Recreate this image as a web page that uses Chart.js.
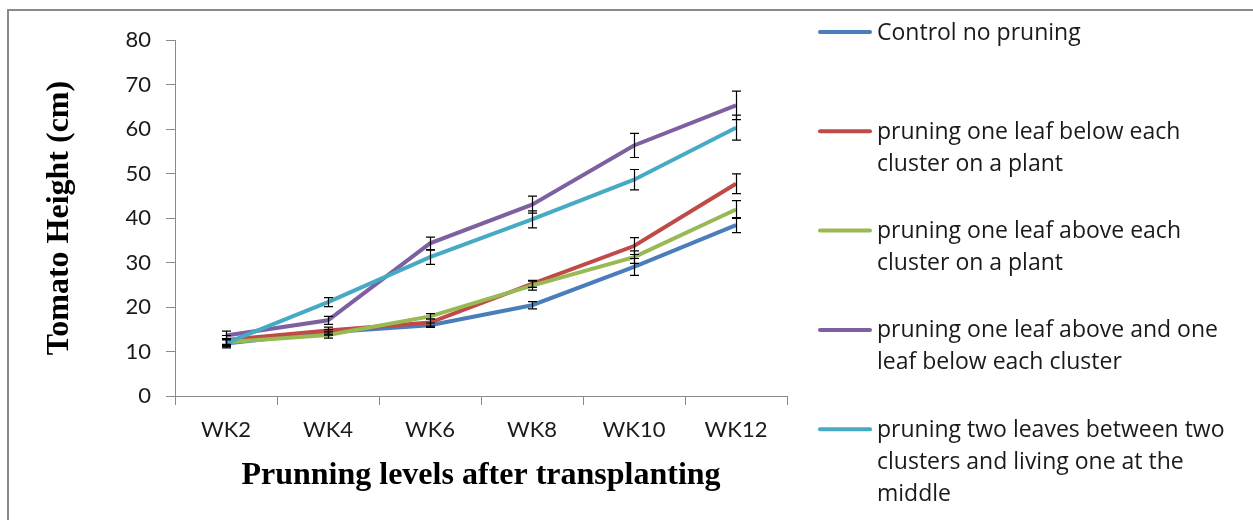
<!DOCTYPE html>
<html>
<head>
<meta charset="utf-8">
<title>Tomato height by pruning level</title>
<script src="https://cdn.jsdelivr.net/npm/chart.js@4"></script>
<style>
  html, body { margin: 0; padding: 0; background: #fff; overflow: hidden; }
  #wrap { position: relative; width: 1253px; height: 520px; }
  #frame { position: absolute; left: 7px; top: 9px; width: 1400px; height: 700px;
           border: 2px solid #8a8a8a; box-sizing: border-box; }
  canvas { position: absolute; left: 0; top: 0; }
</style>
</head>
<body>
<div id="wrap">
  <div id="frame"></div>
  <canvas id="chart" width="1253" height="520"></canvas>
</div>
<script>
// Weeks after transplanting
const weeks = ['WK2', 'WK4', 'WK6', 'WK8', 'WK10', 'WK12'];

// Mean plant height (cm) per treatment
const controlNoPruning   = [11.8, 14.3, 15.9, 20.4, 29.0, 38.4];
const oneLeafBelow       = [12.6, 14.7, 16.5, 25.2, 33.7, 47.7];
const oneLeafAbove       = [12.1, 13.7, 17.9, 24.8, 31.2, 41.9];
const aboveAndBelow      = [13.6, 17.0, 34.3, 43.0, 56.3, 65.3];
const twoLeavesBetween   = [11.9, 21.1, 31.2, 39.7, 48.6, 60.3];

// Standard error per treatment
const controlNoPruningErr = [1.0, 0.6, 0.5, 0.8, 1.9, 1.7];
const oneLeafBelowErr     = [1.0, 0.8, 0.8, 0.8, 1.9, 2.2];
const oneLeafAboveErr     = [0.8, 0.7, 0.6, 1.0, 1.4, 2.0];
const aboveAndBelowErr    = [1.0, 0.9, 1.4, 1.9, 2.7, 3.2];
const twoLeavesBetweenErr = [0.8, 1.0, 1.6, 1.9, 2.3, 2.8];

// Legend text, already wrapped into lines
const controlNoPruningName = ['Control no pruning'];
const oneLeafBelowName     = ['pruning one leaf below each', 'cluster on a plant'];
const oneLeafAboveName     = ['pruning one leaf above each', 'cluster on a plant'];
const aboveAndBelowName    = ['pruning one leaf above and one', 'leaf below each cluster'];
const twoLeavesBetweenName = ['pruning two leaves between two', 'clusters and living one at the', 'middle'];

// y-axis tick values
const yTicks = [0, 10, 20, 30, 40, 50, 60, 70, 80];

const series = [
  { name: controlNoPruningName, data: controlNoPruning, err: controlNoPruningErr, color: '#4A7EBB' },
  { name: oneLeafBelowName,     data: oneLeafBelow,     err: oneLeafBelowErr,     color: '#BE4B48' },
  { name: oneLeafAboveName,     data: oneLeafAbove,     err: oneLeafAboveErr,     color: '#98B954' },
  { name: aboveAndBelowName,    data: aboveAndBelow,    err: aboveAndBelowErr,    color: '#7D60A0' },
  { name: twoLeavesBetweenName, data: twoLeavesBetween, err: twoLeavesBetweenErr, color: '#46AAC5' }
];

const sansFont = 'Lato, "Open Sans", sans-serif';
const legendFont = '"Open Sans", Lato, sans-serif';
const serifFont = '"Liberation Serif", "Times New Roman", serif';
const axisGray = '#8a8a8a';

// Vertical error bars with caps, positioned through the chart scales
const errorBars = {
  id: 'errorBars',
  afterDatasetsDraw(chart) {
    const { ctx } = chart;
    const y = chart.scales.y;
    ctx.save();
    ctx.strokeStyle = '#000';
    ctx.lineWidth = 1.2;
    chart.data.datasets.forEach((ds, i) => {
      const meta = chart.getDatasetMeta(i);
      meta.data.forEach((pt, j) => {
        const v = ds.data[j], e = ds.errors[j];
        const x = Math.round(pt.x) + 0.5;
        const yt = y.getPixelForValue(v + e);
        const yb = y.getPixelForValue(v - e);
        ctx.beginPath();
        ctx.moveTo(x, yt); ctx.lineTo(x, yb);
        ctx.moveTo(x - 4.5, yt); ctx.lineTo(x + 4.5, yt);
        ctx.moveTo(x - 4.5, yb); ctx.lineTo(x + 4.5, yb);
        ctx.stroke();
      });
    });
    ctx.restore();
  }
};

// Legend on the right: line sample plus wrapped label
const sideLegend = {
  id: 'sideLegend',
  afterDraw(chart) {
    const { ctx } = chart;
    const x0 = chart.chartArea.right + 31;
    const top = 33, pitch = 99.3, lineH = 32;
    ctx.save();
    ctx.font = '23px ' + legendFont;
    ctx.textBaseline = 'middle';
    ctx.textAlign = 'left';
    chart.data.datasets.forEach((ds, i) => {
      const yc = top + i * pitch;
      ctx.strokeStyle = ds.borderColor;
      ctx.lineWidth = 4;
      ctx.lineCap = 'round';
      ctx.beginPath();
      ctx.moveTo(x0 + 2, yc - 1); ctx.lineTo(x0 + 52, yc - 1);
      ctx.stroke();
      ctx.fillStyle = '#1a1a1a';
      ds.legendLines.forEach((t, k) => ctx.fillText(t, x0 + 59, yc + k * lineH));
    });
    ctx.restore();
  }
};

new Chart(document.getElementById('chart'), {
  type: 'line',
  data: {
    labels: weeks,
    datasets: series.map((s, i) => ({
      label: s.name.join(' '),
      legendLines: s.name,
      data: s.data,
      errors: s.err,
      borderColor: s.color,
      backgroundColor: s.color,
      borderWidth: 4,
      pointRadius: 0,
      tension: 0,
      fill: false,
      order: series.length - i
    }))
  },
  options: {
    responsive: false,
    animation: false,
    events: [],
    layout: { padding: { top: 40, right: 466, bottom: 0, left: 0 } },
    plugins: {
      legend: { display: false },
      tooltip: { enabled: false },
      title: { display: false }
    },
    scales: {
      x: {
        offset: true,
        afterFit(scale) { scale.height = 124; },
        grid: { offset: true, drawOnChartArea: false, drawTicks: true, tickLength: 9, color: axisGray, lineWidth: 1 },
        border: { color: axisGray, width: 1 },
        ticks: { color: '#1a1a1a', font: { family: sansFont, size: 22 }, padding: 12, maxRotation: 0 },
        title: {
          display: true,
          text: 'Prunning levels after transplanting',
          color: '#000',
          font: { family: serifFont, size: 32, weight: 'bold' },
          padding: { top: 0, bottom: 25 }
        }
      },
      y: {
        min: 0,
        max: 80,
        afterFit(scale) { scale.width = 175; },
        afterBuildTicks(scale) { scale.ticks = yTicks.map(v => ({ value: v })); },
        grid: { drawOnChartArea: false, drawTicks: true, tickLength: 9, color: axisGray, lineWidth: 1 },
        border: { color: axisGray, width: 1 },
        ticks: { color: '#1a1a1a', font: { family: sansFont, size: 22 }, padding: 15 },
        title: {
          display: true,
          text: 'Tomato Height (cm)',
          color: '#000',
          font: { family: serifFont, size: 32, weight: 'bold' },
          padding: { top: 41, bottom: 0 }
        }
      }
    }
  },
  plugins: [errorBars, sideLegend]
});
</script>
</body>
</html>
